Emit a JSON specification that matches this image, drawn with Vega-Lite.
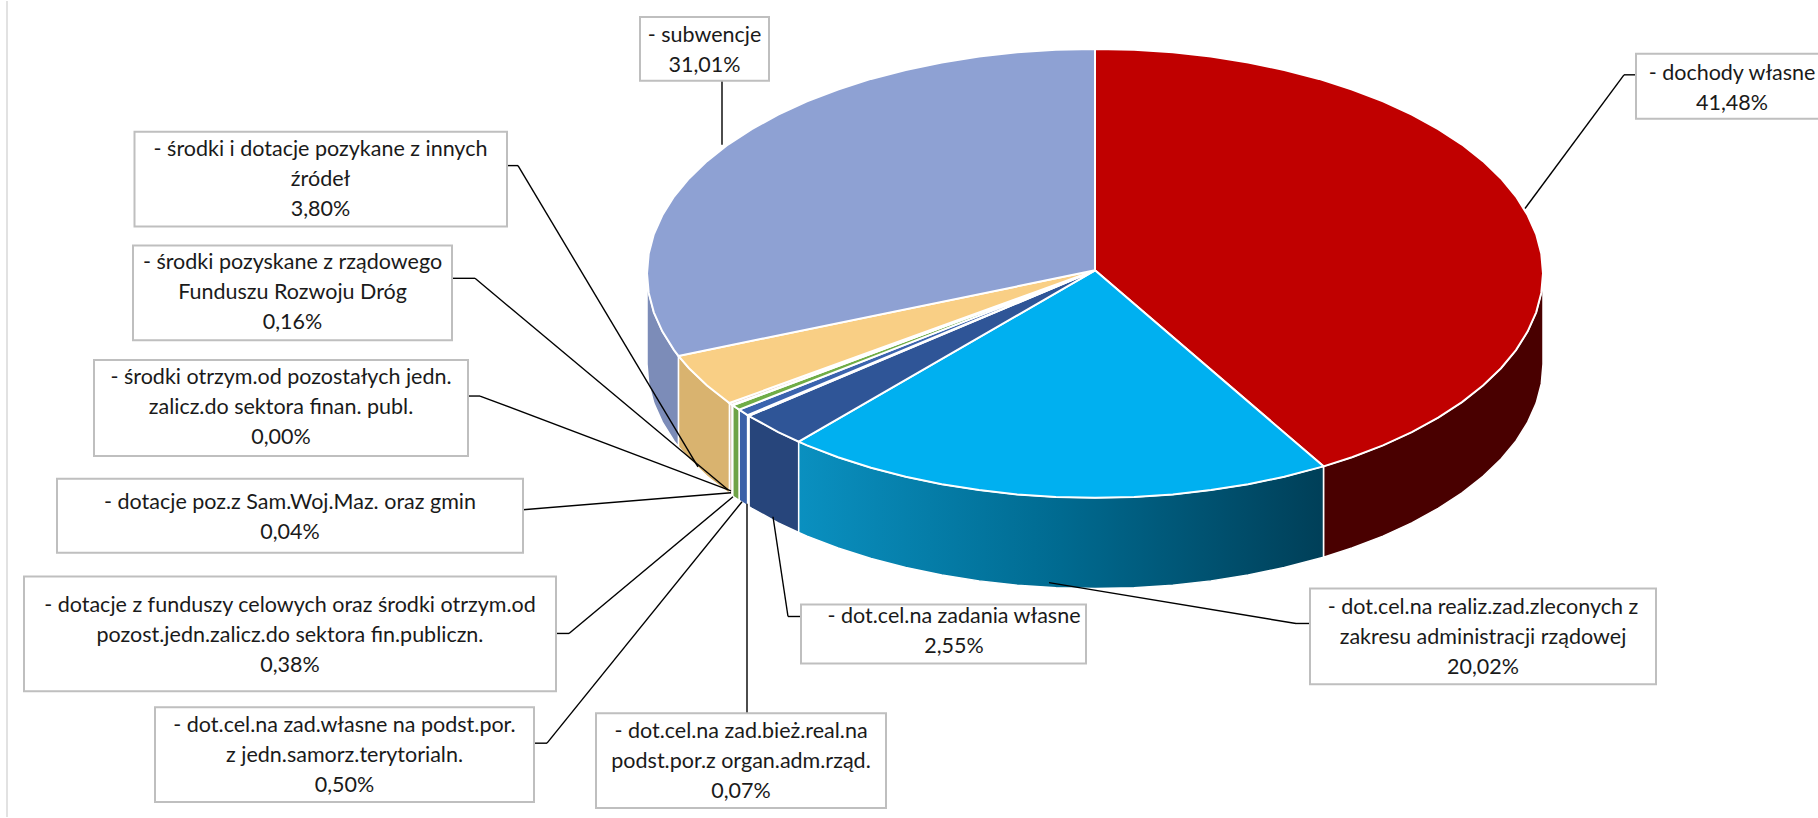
{"$schema":"https://vega.github.io/schema/vega-lite/v6.json","width":1818,"height":818,"padding":0,"autosize":{"type":"fit","contains":"padding"},"background":"#ffffff","config":{"view":{"stroke":null}},
"datasets":{
"frame":[{"x":7,"y":0,"x2":7,"y2":818}],
"boxes":[
{"label":"- subwencje\n31,01%","share":31.01,"x":640,"x2":769,"y":16,"y2":80,"cx":704.5,"cy":35},
{"label":"- dochody własne\n41,48%","share":41.48,"x":1636,"x2":1830,"y":53,"y2":118,"cx":1732,"cy":73},
{"label":"- środki  i dotacje pozykane z innych\nźródeł\n3,80%","share":3.8,"x":134.5,"x2":507,"y":131,"y2":226,"cx":320.5,"cy":149},
{"label":"- środki pozyskane z rządowego\nFunduszu Rozwoju Dróg\n0,16%","share":0.16,"x":133,"x2":452,"y":245,"y2":340,"cx":292.5,"cy":263},
{"label":"- środki otrzym.od pozostałych jedn.\nzalicz.do sektora finan. publ.\n0,00%","share":0,"x":94,"x2":468,"y":360,"y2":456,"cx":281,"cy":378},
{"label":"- dotacje poz.z Sam.Woj.Maz. oraz gmin\n0,04%","share":0.04,"x":57,"x2":523,"y":479,"y2":553,"cx":290,"cy":503},
{"label":"- dotacje z funduszy celowych oraz środki otrzym.od\npozost.jedn.zalicz.do sektora fin.publiczn.\n0,38%","share":0.38,"x":24,"x2":556,"y":577,"y2":692,"cx":290,"cy":606},
{"label":"- dot.cel.na zad.własne na podst.por.\nz jedn.samorz.terytorialn.\n0,50%","share":0.5,"x":155,"x2":534,"y":708,"y2":803,"cx":344.5,"cy":727},
{"label":"- dot.cel.na zad.bież.real.na\npodst.por.z organ.adm.rząd.\n0,07%","share":0.07,"x":596,"x2":886,"y":714,"y2":809,"cx":741,"cy":733},
{"label":"- dot.cel.na zadania własne\n2,55%","share":2.55,"x":801,"x2":1086,"y":605,"y2":664,"cx":954,"cy":618},
{"label":"- dot.cel.na realiz.zad.zleconych z\nzakresu administracji rządowej\n20,02%","share":20.02,"x":1310,"x2":1656,"y":589,"y2":685,"cx":1483,"cy":608}
],
"leaders":[
{"x":722,"y":80,"x2":722,"y2":144},
{"x":1636,"y":74,"x2":1624,"y2":74},{"x":1624,"y":74,"x2":1525,"y2":208},
{"x":507,"y":165,"x2":518,"y2":165},{"x":518,"y":165,"x2":698,"y2":467},
{"x":452,"y":278,"x2":475,"y2":278},{"x":475,"y":278,"x2":728,"y2":490},
{"x":468,"y":396,"x2":480,"y2":396},{"x":480,"y":396,"x2":731,"y2":491},
{"x":523,"y":510,"x2":731,"y2":493},
{"x":556,"y":634,"x2":569,"y2":634},{"x":569,"y":634,"x2":733,"y2":497},
{"x":534,"y":744,"x2":547,"y2":744},{"x":547,"y":744,"x2":742,"y2":502},
{"x":747,"y":714,"x2":747,"y2":504},
{"x":801,"y":617,"x2":788,"y2":617},{"x":788,"y":617,"x2":773,"y2":517},
{"x":1310,"y":624,"x2":1296,"y2":624},{"x":1296,"y":624,"x2":1049,"y2":583}
],
"tops":[
{"slice":"a","i":0,"x":1095,"y":270},{"slice":"a","i":1,"x":1095,"y":48},{"slice":"a","i":2,"x":1134.1,"y":48.8},{"slice":"a","i":3,"x":1172.8,"y":51.4},{"slice":"a","i":4,"x":1210.9,"y":55.7},{"slice":"a","i":5,"x":1248.2,"y":61.6},{"slice":"a","i":6,"x":1284.3,"y":69.1},{"slice":"a","i":7,"x":1319,"y":78.1},{"slice":"a","i":8,"x":1352,"y":88.7},{"slice":"a","i":9,"x":1383,"y":100.6},{"slice":"a","i":10,"x":1411.8,"y":113.9},{"slice":"a","i":11,"x":1438.2,"y":128.4},{"slice":"a","i":12,"x":1462,"y":143.9},{"slice":"a","i":13,"x":1483,"y":160.5},{"slice":"a","i":14,"x":1501,"y":177.9},{"slice":"a","i":15,"x":1516,"y":196},{"slice":"a","i":16,"x":1527.7,"y":214.8},{"slice":"a","i":17,"x":1536.2,"y":233.9},{"slice":"a","i":18,"x":1541.3,"y":253.4},{"slice":"a","i":19,"x":1543,"y":273},{"slice":"a","i":20,"x":1541.3,"y":292.6},{"slice":"a","i":21,"x":1536.2,"y":312.1},{"slice":"a","i":22,"x":1527.7,"y":331.2},{"slice":"a","i":23,"x":1516,"y":350},{"slice":"a","i":24,"x":1501,"y":368.1},{"slice":"a","i":25,"x":1483,"y":385.5},{"slice":"a","i":26,"x":1462,"y":402.1},{"slice":"a","i":27,"x":1438.2,"y":417.6},{"slice":"a","i":28,"x":1411.8,"y":432.1},{"slice":"a","i":29,"x":1383,"y":445.4},{"slice":"a","i":30,"x":1352,"y":457.3},{"slice":"a","i":31,"x":1323.5,"y":466.5},{"slice":"a","i":32,"x":1095,"y":270},
{"slice":"b","i":0,"x":1095,"y":270},{"slice":"b","i":1,"x":1323.5,"y":466.5},{"slice":"b","i":2,"x":1284.3,"y":476.9},{"slice":"b","i":3,"x":1248.2,"y":484.4},{"slice":"b","i":4,"x":1210.9,"y":490.3},{"slice":"b","i":5,"x":1172.8,"y":494.6},{"slice":"b","i":6,"x":1134.1,"y":497.2},{"slice":"b","i":7,"x":1095,"y":498},{"slice":"b","i":8,"x":1055.9,"y":497.2},{"slice":"b","i":9,"x":1017.2,"y":494.6},{"slice":"b","i":10,"x":979.1,"y":490.3},{"slice":"b","i":11,"x":941.8,"y":484.4},{"slice":"b","i":12,"x":905.7,"y":476.9},{"slice":"b","i":13,"x":871,"y":467.9},{"slice":"b","i":14,"x":838,"y":457.3},{"slice":"b","i":15,"x":807,"y":445.4},{"slice":"b","i":16,"x":798.7,"y":441.8},{"slice":"b","i":17,"x":1095,"y":270},
{"slice":"c","i":0,"x":1095,"y":270},{"slice":"c","i":1,"x":798.7,"y":441.8},{"slice":"c","i":2,"x":778.2,"y":432.1},{"slice":"c","i":3,"x":751.8,"y":417.6},{"slice":"c","i":4,"x":748.9,"y":415.9},{"slice":"c","i":5,"x":1095,"y":270},
{"slice":"d","i":0,"x":1095,"y":270},{"slice":"d","i":1,"x":748.9,"y":415.9},{"slice":"d","i":2,"x":747.6,"y":415.1},{"slice":"d","i":3,"x":1095,"y":270},
{"slice":"e","i":0,"x":1095,"y":270},{"slice":"e","i":1,"x":747.6,"y":415.1},{"slice":"e","i":2,"x":739.1,"y":409.6},{"slice":"e","i":3,"x":1095,"y":270},
{"slice":"f","i":0,"x":1095,"y":270},{"slice":"f","i":1,"x":739.1,"y":409.6},{"slice":"f","i":2,"x":732.6,"y":405.3},{"slice":"f","i":3,"x":1095,"y":270},
{"slice":"g","i":0,"x":1095,"y":270},{"slice":"g","i":1,"x":732.6,"y":405.3},{"slice":"g","i":2,"x":732,"y":404.8},{"slice":"g","i":3,"x":1095,"y":270},
{"slice":"h","i":0,"x":1095,"y":270},{"slice":"h","i":1,"x":732,"y":404.8},{"slice":"h","i":2,"x":729.4,"y":403},{"slice":"h","i":3,"x":1095,"y":270},
{"slice":"i","i":0,"x":1095,"y":270},{"slice":"i","i":1,"x":729.4,"y":403},{"slice":"i","i":2,"x":707,"y":385.5},{"slice":"i","i":3,"x":689,"y":368.1},{"slice":"i","i":4,"x":678.4,"y":355.8},{"slice":"i","i":5,"x":1095,"y":270},
{"slice":"j","i":0,"x":1095,"y":270},{"slice":"j","i":1,"x":678.4,"y":355.8},{"slice":"j","i":2,"x":674,"y":350},{"slice":"j","i":3,"x":662.3,"y":331.2},{"slice":"j","i":4,"x":653.8,"y":312.1},{"slice":"j","i":5,"x":648.7,"y":292.6},{"slice":"j","i":6,"x":647,"y":273},{"slice":"j","i":7,"x":648.7,"y":253.4},{"slice":"j","i":8,"x":653.8,"y":233.9},{"slice":"j","i":9,"x":662.3,"y":214.8},{"slice":"j","i":10,"x":674,"y":196},{"slice":"j","i":11,"x":689,"y":177.9},{"slice":"j","i":12,"x":707,"y":160.5},{"slice":"j","i":13,"x":728,"y":143.9},{"slice":"j","i":14,"x":751.8,"y":128.4},{"slice":"j","i":15,"x":778.2,"y":113.9},{"slice":"j","i":16,"x":807,"y":100.6},{"slice":"j","i":17,"x":838,"y":88.7},{"slice":"j","i":18,"x":871,"y":78.1},{"slice":"j","i":19,"x":905.7,"y":69.1},{"slice":"j","i":20,"x":941.8,"y":61.6},{"slice":"j","i":21,"x":979.1,"y":55.7},{"slice":"j","i":22,"x":1017.2,"y":51.4},{"slice":"j","i":23,"x":1055.9,"y":48.8},{"slice":"j","i":24,"x":1095,"y":48},{"slice":"j","i":25,"x":1095,"y":270}
],
"sides":[
{"slice":"a","i":0,"x":1543,"y":273},{"slice":"a","i":1,"x":1541.3,"y":292.6},{"slice":"a","i":2,"x":1536.2,"y":312.1},{"slice":"a","i":3,"x":1527.7,"y":331.2},{"slice":"a","i":4,"x":1516,"y":350},{"slice":"a","i":5,"x":1501,"y":368.1},{"slice":"a","i":6,"x":1483,"y":385.5},{"slice":"a","i":7,"x":1462,"y":402.1},{"slice":"a","i":8,"x":1438.2,"y":417.6},{"slice":"a","i":9,"x":1411.8,"y":432.1},{"slice":"a","i":10,"x":1383,"y":445.4},{"slice":"a","i":11,"x":1352,"y":457.3},{"slice":"a","i":12,"x":1323.5,"y":466.5},{"slice":"a","i":13,"x":1323.5,"y":557.5},{"slice":"a","i":14,"x":1352,"y":548.3},{"slice":"a","i":15,"x":1383,"y":536.4},{"slice":"a","i":16,"x":1411.8,"y":523.1},{"slice":"a","i":17,"x":1438.2,"y":508.6},{"slice":"a","i":18,"x":1462,"y":493.1},{"slice":"a","i":19,"x":1483,"y":476.5},{"slice":"a","i":20,"x":1501,"y":459.1},{"slice":"a","i":21,"x":1516,"y":441},{"slice":"a","i":22,"x":1527.7,"y":422.2},{"slice":"a","i":23,"x":1536.2,"y":403.1},{"slice":"a","i":24,"x":1541.3,"y":383.6},{"slice":"a","i":25,"x":1543,"y":364},{"slice":"a","i":26,"x":1543,"y":273},
{"slice":"c","i":0,"x":798.7,"y":441.8},{"slice":"c","i":1,"x":778.2,"y":432.1},{"slice":"c","i":2,"x":751.8,"y":417.6},{"slice":"c","i":3,"x":748.9,"y":415.9},{"slice":"c","i":4,"x":748.9,"y":506.9},{"slice":"c","i":5,"x":751.8,"y":508.6},{"slice":"c","i":6,"x":778.2,"y":523.1},{"slice":"c","i":7,"x":798.7,"y":532.8},{"slice":"c","i":8,"x":798.7,"y":441.8},
{"slice":"d","i":0,"x":748.9,"y":415.9},{"slice":"d","i":1,"x":747.6,"y":415.1},{"slice":"d","i":2,"x":747.6,"y":506.1},{"slice":"d","i":3,"x":748.9,"y":506.9},{"slice":"d","i":4,"x":748.9,"y":415.9},
{"slice":"e","i":0,"x":747.6,"y":415.1},{"slice":"e","i":1,"x":739.1,"y":409.6},{"slice":"e","i":2,"x":739.1,"y":500.6},{"slice":"e","i":3,"x":747.6,"y":506.1},{"slice":"e","i":4,"x":747.6,"y":415.1},
{"slice":"f","i":0,"x":739.1,"y":409.6},{"slice":"f","i":1,"x":732.6,"y":405.3},{"slice":"f","i":2,"x":732.6,"y":496.3},{"slice":"f","i":3,"x":739.1,"y":500.6},{"slice":"f","i":4,"x":739.1,"y":409.6},
{"slice":"g","i":0,"x":732.6,"y":405.3},{"slice":"g","i":1,"x":732,"y":404.8},{"slice":"g","i":2,"x":732,"y":495.8},{"slice":"g","i":3,"x":732.6,"y":496.3},{"slice":"g","i":4,"x":732.6,"y":405.3},
{"slice":"h","i":0,"x":732,"y":404.8},{"slice":"h","i":1,"x":729.4,"y":403},{"slice":"h","i":2,"x":729.4,"y":494},{"slice":"h","i":3,"x":732,"y":495.8},{"slice":"h","i":4,"x":732,"y":404.8},
{"slice":"i","i":0,"x":729.4,"y":403},{"slice":"i","i":1,"x":707,"y":385.5},{"slice":"i","i":2,"x":689,"y":368.1},{"slice":"i","i":3,"x":678.4,"y":355.8},{"slice":"i","i":4,"x":678.4,"y":446.8},{"slice":"i","i":5,"x":689,"y":459.1},{"slice":"i","i":6,"x":707,"y":476.5},{"slice":"i","i":7,"x":729.4,"y":494},{"slice":"i","i":8,"x":729.4,"y":403},
{"slice":"j","i":0,"x":678.4,"y":355.8},{"slice":"j","i":1,"x":674,"y":350},{"slice":"j","i":2,"x":662.3,"y":331.2},{"slice":"j","i":3,"x":653.8,"y":312.1},{"slice":"j","i":4,"x":648.7,"y":292.6},{"slice":"j","i":5,"x":647,"y":273},{"slice":"j","i":6,"x":647,"y":364},{"slice":"j","i":7,"x":648.7,"y":383.6},{"slice":"j","i":8,"x":653.8,"y":403.1},{"slice":"j","i":9,"x":662.3,"y":422.2},{"slice":"j","i":10,"x":674,"y":441},{"slice":"j","i":11,"x":678.4,"y":446.8},{"slice":"j","i":12,"x":678.4,"y":355.8}
],
"sideGradient":[
{"slice":"b","i":0,"x":1323.5,"y":466.5},{"slice":"b","i":1,"x":1284.3,"y":476.9},{"slice":"b","i":2,"x":1248.2,"y":484.4},{"slice":"b","i":3,"x":1210.9,"y":490.3},{"slice":"b","i":4,"x":1172.8,"y":494.6},{"slice":"b","i":5,"x":1134.1,"y":497.2},{"slice":"b","i":6,"x":1095,"y":498},{"slice":"b","i":7,"x":1055.9,"y":497.2},{"slice":"b","i":8,"x":1017.2,"y":494.6},{"slice":"b","i":9,"x":979.1,"y":490.3},{"slice":"b","i":10,"x":941.8,"y":484.4},{"slice":"b","i":11,"x":905.7,"y":476.9},{"slice":"b","i":12,"x":871,"y":467.9},{"slice":"b","i":13,"x":838,"y":457.3},{"slice":"b","i":14,"x":807,"y":445.4},{"slice":"b","i":15,"x":798.7,"y":441.8},{"slice":"b","i":16,"x":798.7,"y":532.8},{"slice":"b","i":17,"x":807,"y":536.4},{"slice":"b","i":18,"x":838,"y":548.3},{"slice":"b","i":19,"x":871,"y":558.9},{"slice":"b","i":20,"x":905.7,"y":567.9},{"slice":"b","i":21,"x":941.8,"y":575.4},{"slice":"b","i":22,"x":979.1,"y":581.3},{"slice":"b","i":23,"x":1017.2,"y":585.6},{"slice":"b","i":24,"x":1055.9,"y":588.2},{"slice":"b","i":25,"x":1095,"y":589},{"slice":"b","i":26,"x":1134.1,"y":588.2},{"slice":"b","i":27,"x":1172.8,"y":585.6},{"slice":"b","i":28,"x":1210.9,"y":581.3},{"slice":"b","i":29,"x":1248.2,"y":575.4},{"slice":"b","i":30,"x":1284.3,"y":567.9},{"slice":"b","i":31,"x":1323.5,"y":557.5},{"slice":"b","i":32,"x":1323.5,"y":466.5}
]
},
"encoding":{"x":{"field":"x","type":"quantitative","axis":null,"scale":{"domain":[0,1818],"nice":false,"zero":false}},"y":{"field":"y","type":"quantitative","axis":null,"scale":{"domain":[0,818],"reverse":true,"nice":false,"zero":false}}},
"layer":[
{"data":{"name":"frame"},"mark":{"type":"rule","color":"#E2E2E2","strokeWidth":2},"encoding":{"x2":{"field":"x2"},"y2":{"field":"y2"}}},
{"data":{"name":"sides"},"mark":{"type":"line","filled":true,"stroke":"#ffffff","strokeWidth":1.5},"encoding":{"order":{"field":"i","type":"quantitative"},"color":{"field":"slice","type":"nominal","legend":null,"scale":{"domain":["a","c","d","e","f","g","h","i","j"],"range":["#490000","#27457B","#C9D2E6","#3A60A8","#6FA347","#E8E8E8","#D9BFAE","#D9B36F","#7C8CB8"]}}}},
{"data":{"name":"sideGradient"},"mark":{"type":"line","filled":true,"stroke":"#ffffff","strokeWidth":1.5,"fill":{"gradient":"linear","x1":0,"y1":0,"x2":1,"y2":0,"stops":[{"offset":0,"color":"#0A90C0"},{"offset":0.5,"color":"#006A90"},{"offset":1,"color":"#003F58"}]}},"encoding":{"order":{"field":"i","type":"quantitative"},"detail":{"field":"slice"}}},
{"data":{"name":"tops"},"mark":{"type":"line","filled":true,"stroke":"#ffffff","strokeWidth":2},"encoding":{"order":{"field":"i","type":"quantitative"},"color":{"field":"slice","type":"nominal","legend":null,"scale":{"domain":["a","b","c","d","e","f","g","h","i","j"],"range":["#C00000","#00B0F0","#2F5597","#C9D2E6","#3B64AE","#70AD47","#E8E8E8","#D9BFAE","#F9CF85","#8EA1D3"]}}}},
{"data":{"name":"leaders"},"mark":{"type":"rule","color":"#000000","strokeWidth":1.4},"encoding":{"x2":{"field":"x2"},"y2":{"field":"y2"}}},
{"data":{"name":"boxes"},"mark":{"type":"rect","fill":"#ffffff","stroke":"#BFBFBF","strokeWidth":2,"clip":true},"encoding":{"x2":{"field":"x2"},"y2":{"field":"y2"}}},
{"data":{"name":"boxes"},"mark":{"type":"text","font":"Lato","fontSize":21.5,"lineBreak":"\n","lineHeight":30,"align":"center","baseline":"middle","color":"#1A1A1A","clip":true},"encoding":{"x":{"field":"cx","type":"quantitative"},"y":{"field":"cy","type":"quantitative"},"text":{"field":"label"}}}
],
"resolve":{"scale":{"color":"independent"}}}
